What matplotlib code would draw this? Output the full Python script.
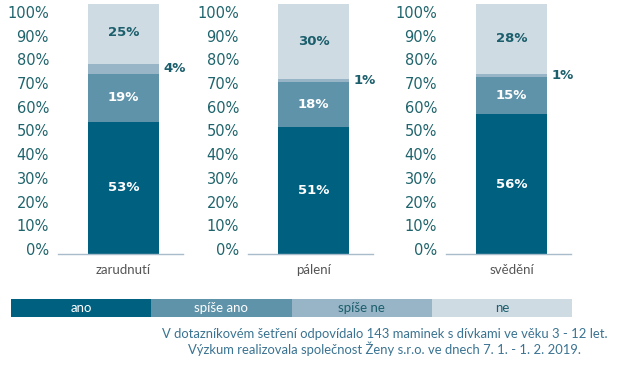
import matplotlib
matplotlib.use("Agg")
import matplotlib.pyplot as plt

# ---- data ----
categories = ["zarudnutí", "pálení", "svědění"]
series_names = ["ano", "spíše ano", "spíše ne", "ne"]
ano = [53, 51, 56]
spise_ano = [19, 18, 15]
spise_ne = [4, 1, 1]
ne = [25, 30, 28]
yticks = [0, 10, 20, 30, 40, 50, 60, 70, 80, 90, 100]
ytick_labels = [f"{v}%" for v in yticks]
footnote = ["V dotazníkovém šetření odpovídalo 143 maminek s dívkami ve věku 3 - 12 let.",
            "Výzkum realizovala společnost Ženy s.r.o. ve dnech 7. 1. - 1. 2. 2019."]

colors = ["#00607f", "#5f93aa", "#97b5c6", "#cfdbe3"]
inner_text = ["white", "white", "#1b5e6c", "#1b5e6c"]
tick_color = "#1f646c"
W, H = 620, 365

fig = plt.figure(figsize=(W / 100, H / 100), dpi=100)

def rect(x0, y0, x1, y1):
    return [x0 / W, (H - y1) / H, (x1 - x0) / W, (y1 - y0) / H]

panel_left = [58, 248, 446]
series = [ano, spise_ano, spise_ne, ne]

for i, cat in enumerate(categories):
    x0 = panel_left[i]
    ax = fig.add_axes(rect(x0, 4, x0 + 125, 254))
    bottom = 0
    for s, vals in enumerate(series):
        v = vals[i]
        ax.bar(0, v, bottom=bottom, width=0.568, color=colors[s], linewidth=0)
        mid = bottom + v / 2
        if s == 2:
            ax.annotate(f"{v}%", xy=(0.284, mid), xytext=(3, 0),
                        textcoords="offset points", ha="left", va="center",
                        fontsize=9.5, fontweight="bold", color="#1b5e6c")
        else:
            ax.text(0, mid, f"{v}%", ha="center", va="center",
                    fontsize=9.5, fontweight="bold", color=inner_text[s])
        bottom += v
    ax.set_xlim(-0.524, 0.476)
    ax.set_ylim(0, 100)
    for sp in ["top", "right", "left"]:
        ax.spines[sp].set_visible(False)
    ax.spines["bottom"].set_color("#a9bccb")
    ax.spines["bottom"].set_linewidth(1.0)
    ax.set_yticks([])
    ax.set_xticks([0])
    ax.set_xticklabels([cat], fontsize=9.5, color="#555555", family="Lato")
    ax.tick_params(axis="x", length=0, pad=7)
    ax.patch.set_alpha(0)

    axl = fig.add_axes(rect(x0, 12, x0 + 125, 249))
    axl.set_ylim(0, 100)
    axl.set_yticks(yticks)
    axl.set_yticklabels(ytick_labels, fontsize=10.5, color=tick_color)
    axl.tick_params(axis="y", length=0, pad=6.5)
    axl.set_xticks([])
    for sp in axl.spines.values():
        sp.set_visible(False)
    axl.patch.set_alpha(0)

# legend strip
axg = fig.add_axes(rect(11, 299, 572, 317))
for k, name in enumerate(series_names):
    axg.bar(k + 0.5, 1, width=1, color=colors[k], linewidth=0)
    axg.text(k + 0.5, 0.5, name, ha="center", va="center", fontsize=9.5,
             family="Lato", color=inner_text[k])
axg.set_xlim(0, 4)
axg.set_ylim(0, 1)
axg.axis("off")

fig.text(385 / W, 1 - 334 / H, footnote[0], ha="center", va="center",
         fontsize=9.4, family="Lato", color="#3a7391")
fig.text(385 / W, 1 - 349 / H, footnote[1], ha="center", va="center",
         fontsize=9.4, family="Lato", color="#3a7391")

fig.savefig("out.png", dpi=100)
